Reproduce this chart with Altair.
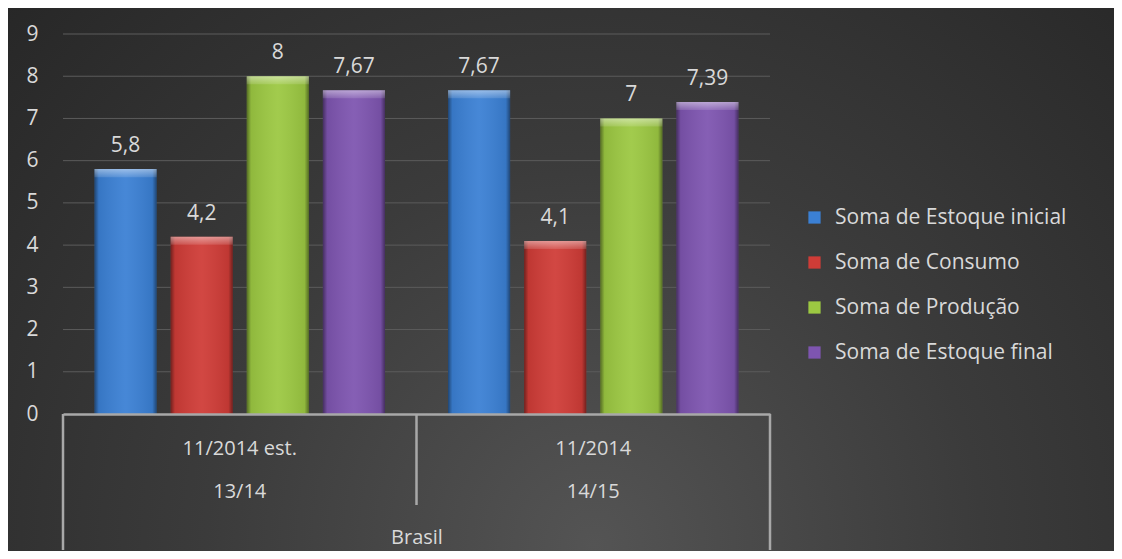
import altair as alt
import pandas as pd

# ---- data ----
periods = ["11/2014 est.|13/14", "11/2014|14/15"]
series = ["Soma de Estoque inicial", "Soma de Consumo", "Soma de Produção", "Soma de Estoque final"]
values_1314 = [5.8, 4.2, 8, 7.67]
values_1415 = [7.67, 4.1, 7, 7.39]
y_ticks = [1, 2, 3, 4, 5, 6, 7, 8, 9]
colors = ["#3b80d4", "#cf3c37", "#9cc842", "#7e55b0"]
group_title = "Brasil"

rows = []
for p, vals in zip(periods, [values_1314, values_1415]):
    for s, v in zip(series, vals):
        rows.append({"period": p, "series": s, "value": v,
                     "label": (f"{v:g}").replace(".", ",")})
df = pd.DataFrame(rows)

FONT = "Open Sans"
TXT = "#d9d9d9"
W, H = 707, 380
PAD = {"left": 55, "top": 26, "right": 344, "bottom": 137}

x_enc = alt.X("period:N", sort=periods,
              scale=alt.Scale(paddingInner=0, paddingOuter=0),
              axis=alt.Axis(title=group_title, labelExpr="split(datum.label, '|')",
                            labelFont=FONT, labelFontSize=20, labelColor=TXT,
                            labelLineHeight=43, labelPadding=24, labelAngle=0,
                            ticks=False, grid=False,
                            domainColor="#a8a8a8", domainWidth=2.5,
                            titleFont=FONT, titleFontSize=20, titleColor=TXT,
                            titleFontWeight="normal", titleY=123, titleBaseline="middle",
                            zindex=1))
xo_enc = alt.XOffset("series:N", sort=series,
                     scale=alt.Scale(paddingInner=0.184, paddingOuter=0.414))
y_enc = alt.Y("value:Q", scale=alt.Scale(domain=[0, 9], nice=False),
              axis=alt.Axis(title=None, values=y_ticks + [0], grid=False, ticks=False,
                            domain=False, labelFont=FONT, labelFontSize=21,
                            labelColor=TXT, labelPadding=25, zindex=1))

bg_grad = alt.RadialGradient(gradient="radial", x1=0.53, y1=0.74, r1=0,
                             x2=0.53, y2=0.74, r2=0.78,
                             stops=[alt.GradientStop(offset=0, color="#545454"),
                                    alt.GradientStop(offset=0.45, color="#3b3b3b"),
                                    alt.GradientStop(offset=1, color="#242424")])

background = alt.Chart(pd.DataFrame({"k": [0]})).mark_rect(fill=bg_grad).encode(
    x=alt.value(-PAD["left"]), x2=alt.value(W + PAD["right"]),
    y=alt.value(-PAD["top"]), y2=alt.value(H + PAD["bottom"]))

grid = alt.Chart(pd.DataFrame({"t": y_ticks})).mark_rule(
    color="#5c5c5c", strokeWidth=1).encode(y=alt.Y("t:Q"))

base = alt.Chart(df)

bars = base.mark_bar().encode(
    x=x_enc, xOffset=xo_enc, y=y_enc,
    color=alt.Color("series:N", sort=series,
                    scale=alt.Scale(domain=series, range=colors),
                    legend=alt.Legend(title=None, orient="none", legendX=741, legendY=173,
                                      symbolType="square", symbolSize=150,
                                      symbolStrokeWidth=0, labelFont=FONT,
                                      labelFontSize=21, labelColor=TXT, labelLimit=0,
                                      labelOffset=10, rowPadding=23, padding=0)))

side_grad = alt.LinearGradient(gradient="linear", x1=0, y1=0, x2=1, y2=0,
                               stops=[alt.GradientStop(offset=0, color="rgba(0,0,0,0.45)"),
                                      alt.GradientStop(offset=0.07, color="rgba(0,0,0,0.08)"),
                                      alt.GradientStop(offset=0.5, color="rgba(255,255,255,0.06)"),
                                      alt.GradientStop(offset=0.93, color="rgba(0,0,0,0.08)"),
                                      alt.GradientStop(offset=1, color="rgba(0,0,0,0.45)")])
shade = base.mark_bar(fill=side_grad).encode(x=x_enc, xOffset=xo_enc, y=y_enc)

top_grad = alt.LinearGradient(gradient="linear", x1=0, y1=0, x2=0, y2=1,
                              stops=[alt.GradientStop(offset=0, color="rgba(255,255,255,0.45)"),
                                     alt.GradientStop(offset=1, color="rgba(255,255,255,0.12)")])
bevel = base.transform_calculate(lo="datum.value - 0.19").mark_bar(fill=top_grad).encode(
    x=x_enc, xOffset=xo_enc, y=y_enc, y2="lo:Q")

labels = base.mark_text(dy=-23, font=FONT, fontSize=21, color=TXT).encode(
    x=x_enc, xOffset=xo_enc, y=y_enc, text="label:N")

one = pd.DataFrame({"k": [0]})
rule_style = dict(color="#a8a8a8", strokeWidth=2.5)
div_left = alt.Chart(one).mark_rule(**rule_style).encode(
    x=alt.value(0), y=alt.value(H), y2=alt.value(H + 136))
div_mid = alt.Chart(one).mark_rule(**rule_style).encode(
    x=alt.value(W / 2), y=alt.value(H), y2=alt.value(H + 91))
div_right = alt.Chart(one).mark_rule(**rule_style).encode(
    x=alt.value(W), y=alt.value(H), y2=alt.value(H + 136))

chart = alt.layer(background, grid, bars, shade, bevel, labels,
                  div_left, div_mid, div_right).properties(
    width=W, height=H, padding=PAD,
    autosize=alt.AutoSizeParams(type="none"),
    background="#2b2b2b",
).configure_view(stroke=None)

chart.save("out.html", embed_options={"renderer": "svg", "actions": False})
